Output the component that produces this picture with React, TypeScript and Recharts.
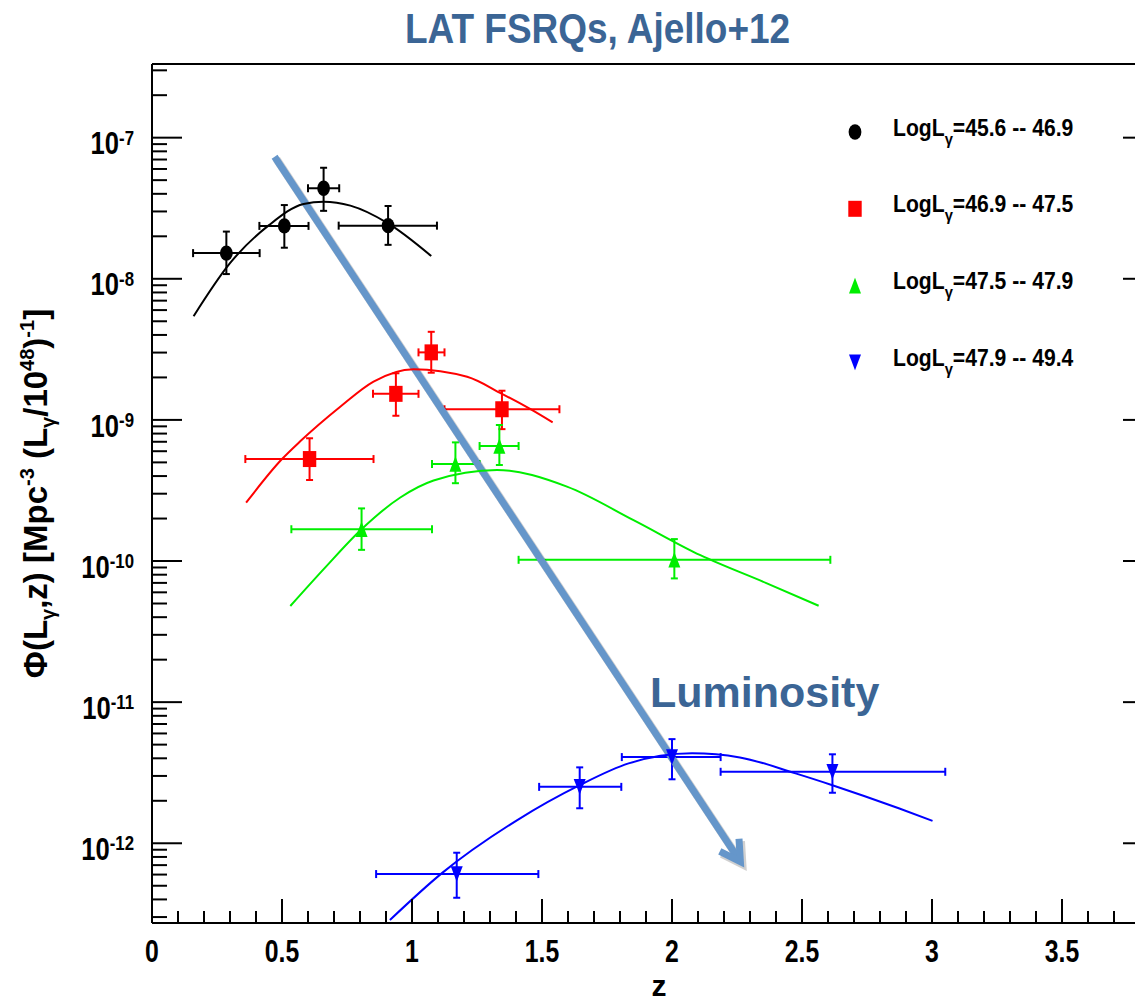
import React from "react";
import { ComposedChart, Scatter, XAxis, YAxis, ErrorBar, ReferenceLine, Legend } from "recharts";

// ---- data (z, Phi) ----
const BLACK_Z = [0.286, 0.509, 0.66, 0.908];
const BLACK_PHI = [1.52e-8, 2.37e-8, 4.38e-8, 2.38e-8];
const BLACK_Z_LO = [0.158, 0.413, 0.6, 0.718];
const BLACK_Z_HI = [0.414, 0.602, 0.72, 1.096];
const BLACK_PHI_LO = [1.08e-8, 1.66e-8, 3.03e-8, 1.74e-8];
const BLACK_PHI_HI = [2.16e-8, 3.33e-8, 6.12e-8, 3.28e-8];

const RED_Z = [0.606, 0.938, 1.074, 1.346];
const RED_PHI = [5.28e-10, 1.53e-9, 3.01e-9, 1.19e-9];
const RED_Z_LO = [0.359, 0.85, 1.025, 1.125];
const RED_Z_HI = [0.852, 1.025, 1.125, 1.567];
const RED_PHI_LO = [3.75e-10, 1.07e-9, 2.16e-9, 8.6e-10];
const RED_PHI_HI = [7.41e-10, 2.14e-9, 4.21e-9, 1.61e-9];

const GREEN_Z = [0.806, 1.167, 1.336, 2.009];
const GREEN_PHI = [1.68e-10, 4.87e-10, 6.53e-10, 1.02e-10];
const GREEN_Z_LO = [0.536, 1.077, 1.26, 1.41];
const GREEN_Z_HI = [1.077, 1.26, 1.41, 2.609];
const GREEN_PHI_LO = [1.2e-10, 3.56e-10, 4.79e-10, 7.53e-11];
const GREEN_PHI_HI = [2.36e-10, 6.93e-10, 9.2e-10, 1.43e-10];

const BLUE_Z = [1.172, 1.645, 2.0, 2.617];
const BLUE_PHI = [6.05e-13, 2.51e-12, 4.08e-12, 3.21e-12];
const BLUE_Z_LO = [0.862, 1.489, 1.807, 2.187];
const BLUE_Z_HI = [1.486, 1.805, 2.187, 3.051];
const BLUE_PHI_LO = [4.11e-13, 1.77e-12, 2.84e-12, 2.28e-12];
const BLUE_PHI_HI = [8.57e-13, 3.45e-12, 5.47e-12, 4.27e-12];

// model curves
const BLACK_CURVE_Z = [0.16, 0.3, 0.45, 0.583, 0.66, 0.763, 0.908, 1.074];
const BLACK_CURVE_PHI = [5.43e-9, 1.29e-8, 2.4e-8, 3.39e-8, 3.52e-8, 3.3e-8, 2.47e-8, 1.45e-8];
const RED_CURVE_Z = [0.362, 0.5, 0.57, 0.724, 0.852, 1.006, 1.212, 1.346, 1.449, 1.541];
const RED_CURVE_PHI = [2.59e-10, 5.28e-10, 7.05e-10, 1.24e-9, 1.87e-9, 2.29e-9, 2.02e-9, 1.53e-9, 1.21e-9, 9.6e-10];
const GREEN_CURVE_Z = [0.532, 0.663, 0.806, 0.955, 1.083, 1.327, 1.596, 1.852, 2.109, 2.365, 2.564];
const GREEN_CURVE_PHI = [4.8e-11, 8.87e-11, 1.68e-10, 2.82e-10, 3.72e-10, 4.42e-10, 3.37e-10, 1.95e-10, 1.1e-10, 6.95e-11, 4.82e-11];
const BLUE_CURVE_Z = [0.915, 1.114, 1.405, 1.645, 1.833, 2.077, 2.261, 2.475, 2.617, 2.872, 3.002];
const BLUE_CURVE_PHI = [2.86e-13, 6.12e-13, 1.46e-12, 2.58e-12, 3.68e-12, 4.34e-12, 4.06e-12, 3.13e-12, 2.58e-12, 1.77e-12, 1.44e-12];

const LEGEND_RANGES = ["45.6 -- 46.9", "46.9 -- 47.5", "47.5 -- 47.9", "47.9 -- 49.4"];

// arrow annotation (z, Phi)
const ARROW_FROM = { x: 0.4715, y: 7.33e-8 };
const ARROW_TO = { x: 2.263, y: 7.4e-13 };

// axes
const X_DOMAIN = [0, 3.85];
const Y_DOMAIN = [Math.pow(10, -12.565), Math.pow(10, -6.478)];
const X_TICKS = Array.from({ length: 39 }, (_, i) => i / 10);
const Y_DECADES = [-13, -12, -11, -10, -9, -8, -7];
const Y_TICKS = Y_DECADES.flatMap((e) =>
  [1, 2, 3, 4, 5, 6, 7, 8, 9].map((m) => m * Math.pow(10, e))
).filter((v) => v >= Y_DOMAIN[0] && v <= Y_DOMAIN[1]);

const FONT = '"Liberation Sans", Arial, Helvetica, sans-serif';
const TEXT_BLUE = "#3B6595";
const ARROW_BLUE = "#6596CA";

const points = (z: number[], phi: number[], zlo: number[], zhi: number[], plo: number[], phi_hi: number[]) =>
  z.map((zz, i) => ({
    z: zz,
    v: phi[i],
    ex: [zz - zlo[i], zhi[i] - zz],
    ey: [phi[i] - plo[i], phi_hi[i] - phi[i]],
  }));

const curve = (z: number[], phi: number[]) => z.map((zz, i) => ({ z: zz, v: phi[i] }));

type Kind = "circle" | "square" | "up" | "down";

const SERIES: { kind: Kind; color: string; pts: any[]; line: any[] }[] = [
  {
    kind: "circle",
    color: "#000000",
    pts: points(BLACK_Z, BLACK_PHI, BLACK_Z_LO, BLACK_Z_HI, BLACK_PHI_LO, BLACK_PHI_HI),
    line: curve(BLACK_CURVE_Z, BLACK_CURVE_PHI),
  },
  {
    kind: "square",
    color: "#FF0000",
    pts: points(RED_Z, RED_PHI, RED_Z_LO, RED_Z_HI, RED_PHI_LO, RED_PHI_HI),
    line: curve(RED_CURVE_Z, RED_CURVE_PHI),
  },
  {
    kind: "up",
    color: "#00EE00",
    pts: points(GREEN_Z, GREEN_PHI, GREEN_Z_LO, GREEN_Z_HI, GREEN_PHI_LO, GREEN_PHI_HI),
    line: curve(GREEN_CURVE_Z, GREEN_CURVE_PHI),
  },
  {
    kind: "down",
    color: "#0000FF",
    pts: points(BLUE_Z, BLUE_PHI, BLUE_Z_LO, BLUE_Z_HI, BLUE_PHI_LO, BLUE_PHI_HI),
    line: curve(BLUE_CURVE_Z, BLUE_CURVE_PHI),
  },
];

function Marker({ kind, cx, cy, color }: { kind: Kind; cx: number; cy: number; color: string }) {
  if (kind === "circle") return <ellipse cx={cx} cy={cy} rx={6.4} ry={7.7} fill={color} />;
  if (kind === "square") return <rect x={cx - 6.7} y={cy - 8} width={13.4} height={16} fill={color} />;
  if (kind === "up")
    return <polygon points={`${cx},${cy - 7.8} ${cx + 6},${cy + 7.8} ${cx - 6},${cy + 7.8}`} fill={color} />;
  return <polygon points={`${cx - 6},${cy - 7.8} ${cx + 6},${cy - 7.8} ${cx},${cy + 7.8}`} fill={color} />;
}

const isMajorX = (v: number) => Math.abs(v * 2 - Math.round(v * 2)) < 1e-9;
const isMajorY = (v: number) => {
  const l = Math.log10(v);
  return Math.abs(l - Math.round(l)) < 1e-6;
};

function BottomTick(props: any) {
  const { x, y, payload } = props;
  const major = isMajorX(payload.value);
  return (
    <g>
      <line x1={x} y1={y} x2={x} y2={y - (major ? 24 : 12)} stroke="#000" strokeWidth={2} />
      {major && payload.value <= 3.5 && (
        <text
          transform={`translate(${x},${y + 39}) scale(0.8,1)`}
          textAnchor="middle"
          fontFamily={FONT}
          fontWeight="bold"
          fontSize={31}
          fill="#000"
        >
          {String(Number(payload.value.toFixed(1)))}
        </text>
      )}
    </g>
  );
}

function TopTick(props: any) {
  const { x, y, payload } = props;
  const major = isMajorX(payload.value);
  return <line x1={x} y1={y} x2={x} y2={y + (major ? 25 : 12)} stroke="#000" strokeWidth={2} />;
}

function LeftTick(props: any) {
  const { x, y, payload } = props;
  const major = isMajorY(payload.value);
  const exp = Math.round(Math.log10(payload.value));
  return (
    <g>
      <line x1={x} y1={y} x2={x + (major ? 30 : 15)} y2={y} stroke="#000" strokeWidth={2} />
      {major && (
        <text
          transform={`translate(${x - 18},${y + 16.6}) scale(0.8,1)`}
          textAnchor="end"
          fontFamily={FONT}
          fontWeight="bold"
          fill="#000"
        >
          <tspan fontSize={32}>10</tspan>
          <tspan fontSize={21} dy={-9.5}>
            {String(exp)}
          </tspan>
        </text>
      )}
    </g>
  );
}

function RightTick(props: any) {
  const { x, y, payload } = props;
  const major = isMajorY(payload.value);
  return <line x1={x} y1={y} x2={x - (major ? 30 : 15)} y2={y} stroke="#000" strokeWidth={2} />;
}

function Arrow(props: any) {
  const { x1, y1, x2, y2 } = props;
  const ang = Math.atan2(y2 - y1, x2 - x1);
  const len = 23;
  const a1 = ang + Math.PI - Math.PI / 6;
  const a2 = ang + Math.PI + Math.PI / 6;
  const head = `M${x2 + len * Math.cos(a1)},${y2 + len * Math.sin(a1)} L${x2},${y2} L${x2 + len * Math.cos(a2)},${y2 + len * Math.sin(a2)}`;
  return (
    <g>
      <g transform="translate(2,2.5)" opacity={0.18}>
        <line x1={x1} y1={y1} x2={x2} y2={y2} stroke="#000" strokeWidth={8} />
        <path d={head} fill="none" stroke="#000" strokeWidth={8} />
      </g>
      <line x1={x1} y1={y1} x2={x2} y2={y2} stroke={ARROW_BLUE} strokeWidth={7} />
      <path d={head} fill="none" stroke={ARROW_BLUE} strokeWidth={7} strokeLinejoin="miter" />
    </g>
  );
}

function LegendBox() {
  return (
    <svg width={1165} height={400} style={{ display: "block", overflow: "visible" }}>
      {SERIES.map((s, i) => {
        const cy = 132 + i * 76.8;
        return (
          <g key={i}>
            <Marker kind={s.kind} cx={855} cy={cy} color={s.color} />
            <text
              transform={`translate(893,${cy + 3.5}) scale(0.92,1)`}
              fontFamily={FONT}
              fontWeight="bold"
              fontSize={23}
              fill="#000"
            >
              LogL
              <tspan fontSize={16} dy={9}>
                γ
              </tspan>
              <tspan dy={-9}>{"=" + LEGEND_RANGES[i]}</tspan>
            </text>
          </g>
        );
      })}
    </svg>
  );
}

export default function App() {
  return (
    <div style={{ position: "absolute", left: 0, top: 0, width: 1135, height: 1001, overflow: "hidden", background: "#fff" }}>
      <ComposedChart width={1165} height={1001} margin={{ top: 62, right: 10, bottom: 38, left: 92 }}>
        <XAxis
          dataKey="z"
          type="number"
          domain={X_DOMAIN}
          ticks={X_TICKS}
          interval={0}
          allowDataOverflow
          tickLine={false}
          tickSize={0}
          tickMargin={0}
          tick={(p: any) => <BottomTick {...p} />}
          axisLine={{ stroke: "#000", strokeWidth: 2 }}
          height={40}
        />
        <XAxis
          xAxisId="top"
          orientation="top"
          type="number"
          domain={X_DOMAIN}
          ticks={X_TICKS}
          interval={0}
          allowDataOverflow
          tickLine={false}
          tickSize={0}
          tickMargin={0}
          tick={(p: any) => <TopTick {...p} />}
          axisLine={{ stroke: "#000", strokeWidth: 2 }}
          height={2}
        />
        <YAxis
          dataKey="v"
          type="number"
          scale="log"
          domain={Y_DOMAIN}
          ticks={Y_TICKS}
          interval={0}
          allowDataOverflow
          tickLine={false}
          tickSize={0}
          tickMargin={0}
          tick={(p: any) => <LeftTick {...p} />}
          axisLine={{ stroke: "#000", strokeWidth: 2 }}
          width={60}
        />
        <YAxis
          yAxisId="right"
          orientation="right"
          type="number"
          scale="log"
          domain={Y_DOMAIN}
          ticks={Y_TICKS}
          interval={0}
          allowDataOverflow
          tickLine={false}
          tickSize={0}
          tickMargin={0}
          tick={(p: any) => <RightTick {...p} />}
          axisLine={{ stroke: "#000", strokeWidth: 2 }}
          width={2}
        />
        <Legend
          layout="vertical"
          align="center"
          verticalAlign="middle"
          wrapperStyle={{ left: 0, top: 0, width: 1165, height: 400, pointerEvents: "none" }}
          content={() => <LegendBox />}
        />
        {SERIES.map((s, i) => (
          <Scatter
            key={"curve" + i}
            data={s.line}
            line={{ stroke: s.color, strokeWidth: 2 }}
            lineJointType="monotoneX"
            shape={() => <g />}
            isAnimationActive={false}
            legendType="none"
          />
        ))}
        {SERIES.map((s, i) => (
          <Scatter
            key={"pts" + i}
            data={s.pts}
            shape={(p: any) => <Marker kind={s.kind} cx={p.cx} cy={p.cy} color={s.color} />}
            isAnimationActive={false}
          >
            <ErrorBar dataKey="ex" direction="x" stroke={s.color} strokeWidth={2} width={4} />
            <ErrorBar dataKey="ey" direction="y" stroke={s.color} strokeWidth={2} width={3.5} />
          </Scatter>
        ))}
        <ReferenceLine segment={[ARROW_FROM, ARROW_TO]} ifOverflow="visible" shape={(p: any) => <Arrow {...p} />} />
      </ComposedChart>
      <svg
        width={1135}
        height={1001}
        style={{ position: "absolute", left: 0, top: 0, pointerEvents: "none" }}
        fontFamily={FONT}
        fontWeight="bold"
      >
        <text transform="translate(597.5,43.3) scale(0.87,1)" textAnchor="middle" fontSize={42.5} fill={TEXT_BLUE}>
          LAT FSRQs, Ajello+12
        </text>
        <text x={650} y={706.7} fontSize={43} fill={TEXT_BLUE}>
          Luminosity
        </text>
        <text x={659} y={996} textAnchor="middle" fontSize={30} fill="#000">
          z
        </text>
        <text transform="translate(46.5,493.5) rotate(-90)" textAnchor="middle" fontSize={33} fill="#000">
          Φ(L
          <tspan fontSize={20} dy={8}>γ</tspan>
          <tspan dy={-8}>{",z) [Mpc"}</tspan>
          <tspan fontSize={20} dy={-13}>-3</tspan>
          <tspan dy={13}>{" (L"}</tspan>
          <tspan fontSize={20} dy={8}>γ</tspan>
          <tspan dy={-8}>{"/10"}</tspan>
          <tspan fontSize={20} dy={-13}>48</tspan>
          <tspan dy={13}>{")"}</tspan>
          <tspan fontSize={20} dy={-13}>-1</tspan>
          <tspan dy={13}>{"]"}</tspan>
        </text>
      </svg>
    </div>
  );
}
